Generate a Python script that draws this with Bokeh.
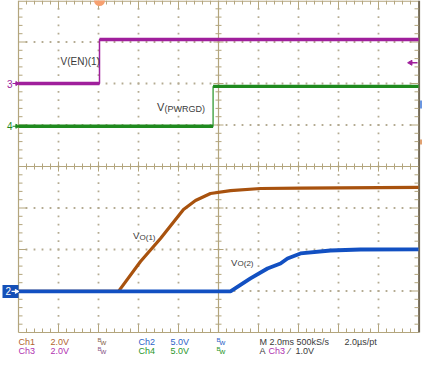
import math
from bokeh.plotting import figure
from bokeh.models import Range1d
from bokeh.embed import file_html
from bokeh.resources import INLINE
from bokeh.core.properties import value

# ---------------- data (read from the scope capture) ----------------
MS_PER_DIV = 2.0
VOLTS_PER_DIV = {"Ch1": 2.0, "Ch2": 5.0, "Ch3": 2.0, "Ch4": 5.0}
OFFSET_DIV = {"Ch1": -3.01, "Ch2": -3.01, "Ch3": 2.0, "Ch4": 0.97}

# Ch3 : V(EN)
en_t = [0.0, 4.05, 4.05, 20.0]
en_v = [0.0, 0.0, 2.12, 2.12]
# Ch4 : V(PWRGD)
pg_t = [0.0, 9.73, 9.73, 20.0]
pg_v = [0.0, 0.0, 4.8, 4.8]
# Ch1 : VO(1)
vo1_t = [0.0, 5.0, 6.1, 7.1, 8.25, 8.85, 9.6, 10.6, 12.1, 14.1, 20.0]
vo1_v = [0.0, 0.0, 1.44, 2.55, 3.95, 4.38, 4.72, 4.86, 4.96, 4.98, 5.01]
# Ch2 : VO(2)
vo2_t = [0.0, 10.6, 11.6, 12.45, 13.1, 13.45, 14.1, 15.6, 17.1, 20.0]
vo2_v = [0.0, 0.0, 1.56, 2.76, 3.36, 3.97, 4.57, 4.93, 5.05, 5.07]

TRIG_T = 4.05          # ms
TRIG_LEVEL = 1.0       # V on Ch3

STATUS_ROW1 = ["Ch1", "2.0V", "Bw", "Ch2", "5.0V", "Bw", "M 2.0ms 500kS/s", "2.0\u00b5s/pt"]
STATUS_ROW2 = ["Ch3", "2.0V", "Bw", "Ch4", "5.0V", "Bw", "A", "Ch3", "\u2044", "1.0V"]

# ---------------- styles / layout ----------------
C1 = "#a8520e"
C2 = "#1250c2"
C3 = "#a01f9c"
C4 = "#1f8a1f"
C1T = "#b06430"
C2T = "#2e64c8"
C3T = "#b02fb0"
C4T = "#2a962a"
DARK = "#3a3a3a"
GRID = "#b3a57d"
EDGE_R = "#746a56"
DOT = "#b4ab92"
FONT = value("Liberation Sans")

PXX = 40.0    # px per horizontal division
PXY = 41.5    # px per vertical division


def X(px):  # reference pixel column -> division units
    return (px - 18) / PXX


def Y(py):  # reference pixel row -> division units
    return (166 - py) / PXY


X_LO, X_HI = X(0), X(422)
Y_LO, Y_HI = Y(365), Y(0)
TOP = 4.0

p = figure(width=422, height=365, x_range=Range1d(X_LO, X_HI), y_range=Range1d(Y_LO, Y_HI),
           output_backend="svg", toolbar_location=None, min_border=0,
           x_axis_location=None, y_axis_location=None, title=None)
p.grid.visible = False
p.outline_line_color = None
p.background_fill_color = "white"
p.border_fill_color = "white"

# ---------------- graticule ----------------
dx, dy = 1 / PXX, 1 / PXY
xs_minor = [round(0.2 * i, 6) for i in range(1, 50)]
ys_minor = [round(-4 + 0.2 * i, 6) for i in range(1, 40)]


def major(v):
    return abs(v - round(v)) < 1e-6


# dotted grid
dot_x, dot_y = [], []
for gx in range(1, 10):
    if gx == 5:
        continue
    for yy in ys_minor:
        dot_x.append(gx); dot_y.append(yy)
for gy in range(-3, 4):
    if gy == 0:
        continue
    for xx in xs_minor:
        dot_x.append(xx); dot_y.append(gy)
p.scatter(dot_x, dot_y, marker="square", size=1.8, fill_color=DOT, line_color=None)

y_top_line = TOP - 0.7 * dy
# main lines
p.segment(x0=[0, 0, 5, 0, 0], y0=[-4, 0, -4, y_top_line, -4], x1=[0, 10, 5, 10, 10],
          y1=[TOP, 0, TOP, y_top_line, -4], line_color=GRID, line_width=1.2)
p.segment(x0=[10 + 0.6 * dx], y0=[-4], x1=[10 + 0.6 * dx], y1=[TOP], line_color=EDGE_R, line_width=2)

# ticks
sx0, sy0, sx1, sy1 = [], [], [], []
for xx in xs_minor:
    L = 8 if major(xx) else 4
    c = 5 if major(xx) else 3
    sx0 += [xx, xx, xx]; sx1 += [xx, xx, xx]
    sy0 += [-4, TOP, -c * dy]
    sy1 += [-4 + L * dy, TOP - L * dy, c * dy]
for yy in ys_minor:
    L = 8 if major(yy) else 4
    c = 5 if major(yy) else 3
    sy0 += [yy, yy, yy]; sy1 += [yy, yy, yy]
    sx0 += [0, 10, 5 - c * dx]
    sx1 += [L * dx, 10 - L * dx, 5 + c * dx]
p.segment(x0=sx0, y0=sy0, x1=sx1, y1=sy1, line_color=GRID, line_width=1)


# ---------------- traces ----------------
def to_div(ts, vs, ch):
    return ([t / MS_PER_DIV for t in ts],
            [OFFSET_DIV[ch] + v / VOLTS_PER_DIV[ch] for v in vs])


def step_trace(ts, vs, ch, color, vcolor):
    xs, ys = to_div(ts, vs, ch)
    p.line(xs, ys, line_color=vcolor, line_width=1.5)
    hx0, hy0, hx1, hy1 = [], [], [], []
    for i in range(len(xs) - 1):
        if ys[i] == ys[i + 1]:
            hx0.append(xs[i]); hy0.append(ys[i]); hx1.append(xs[i + 1]); hy1.append(ys[i + 1])
    p.segment(x0=hx0, y0=hy0, x1=hx1, y1=hy1, line_color=color, line_width=3.4)


step_trace(en_t, en_v, "Ch3", C3, C3)
step_trace(pg_t, pg_v, "Ch4", C4, "#4fa84f")

x1s, y1s = to_div(vo1_t, vo1_v, "Ch1")
p.line(x1s, y1s, line_color=C1, line_width=3.2)
x2s, y2s = to_div(vo2_t, vo2_v, "Ch2")
p.line(x2s, y2s, line_color=C2, line_width=3.8)

# trigger position marker (top) and trigger level arrow (right)
p.scatter([TRIG_T / MS_PER_DIV], [TOP], marker="circle", size=11, fill_color="#f6a070", line_color=None)
ty = OFFSET_DIV["Ch3"] + TRIG_LEVEL / VOLTS_PER_DIV["Ch3"]
p.segment(x0=[X(410)], y0=[ty], x1=[X(417)], y1=[ty], line_color=C3, line_width=1.5)
p.scatter([X(410)], [ty], marker="triangle", angle=math.pi / 2, size=5, fill_color=C3, line_color=C3)

# right edge small channel tabs
p.quad(left=[X(419.5)], right=[X(422)], top=[Y(100)], bottom=[Y(108)], fill_color="#6a96e0", line_color=None)
p.quad(left=[X(419.5)], right=[X(422)], top=[Y(139)], bottom=[Y(144)], fill_color="#e0a070", line_color=None)

# left channel ground markers
for ch, col in (("Ch3", C3), ("Ch4", C4)):
    yy = OFFSET_DIV[ch]
    p.text([X(6.5)], [yy], text=[ch[-1]], text_color=col, text_font=FONT, text_font_size="10px",
           text_align="left", text_baseline="middle")
    p.segment(x0=[X(12)], y0=[yy], x1=[X(16.5)], y1=[yy], line_color=col, line_width=1.2)
    p.scatter([X(16.5)], [yy], marker="triangle", angle=-math.pi / 2, size=4, fill_color=col, line_color=col)

yb = OFFSET_DIV["Ch2"]
p.quad(left=[X(2)], right=[X(18)], top=[yb + 6.5 * dy], bottom=[yb - 6.5 * dy], fill_color="#1450b8",
       line_color=None)
p.text([X(5)], [yb], text=["2"], text_color="white", text_font=FONT, text_font_size="10px",
       text_align="left", text_baseline="middle")
p.segment(x0=[X(11)], y0=[yb], x1=[X(16)], y1=[yb], line_color="white", line_width=1.2)
p.scatter([X(16)], [yb], marker="triangle", angle=-math.pi / 2, size=4, fill_color="white", line_color="white")


# ---------------- annotations ----------------
def txt(x, y, s, size, color=DARK):
    p.text([x], [y], text=[s], text_color=color, text_font=FONT, text_font_size=size,
           text_align="left", text_baseline="middle")


txt(X(60), Y(61), "V(EN)(1)", "10px")
txt(X(156.5), Y(106), "V", "11px")
txt(X(164), Y(108.5), "(PWRGD)", "9px")
txt(X(132.5), Y(235), "V", "9.5px")
txt(X(139), Y(236.5), "O(1)", "8px")
txt(X(230.5), Y(261.5), "V", "9.5px")
txt(X(237), Y(263), "O(2)", "8px")

# status bar
row1_px = [18, 50, 97, 138, 170, 216, 259, 344]
row1_col = [C1T, C1T, "#8a6a50", C2T, C2T, C2T, DARK, DARK]
row2_px = [18, 50, 97, 138, 170, 216, 259, 268, 288, 295]
row2_col = [C3T, C3T, "#8a5a8a", C4T, C4T, C4T, DARK, C3T, DARK, DARK]

for texts, pxs, cols, py in ((STATUS_ROW1, row1_px, row1_col, 341),
                             (STATUS_ROW2, row2_px, row2_col, 350)):
    for s, px, col in zip(texts, pxs, cols):
        if s == "Bw":
            txt(X(px), Y(py - 2), "B", "6px", col)
            txt(X(px + 3), Y(py + 0.5), "w", "8px", col)
        else:
            txt(X(px), Y(py), s, "9px", col)

open("out.html", "w").write(file_html(p, INLINE))
